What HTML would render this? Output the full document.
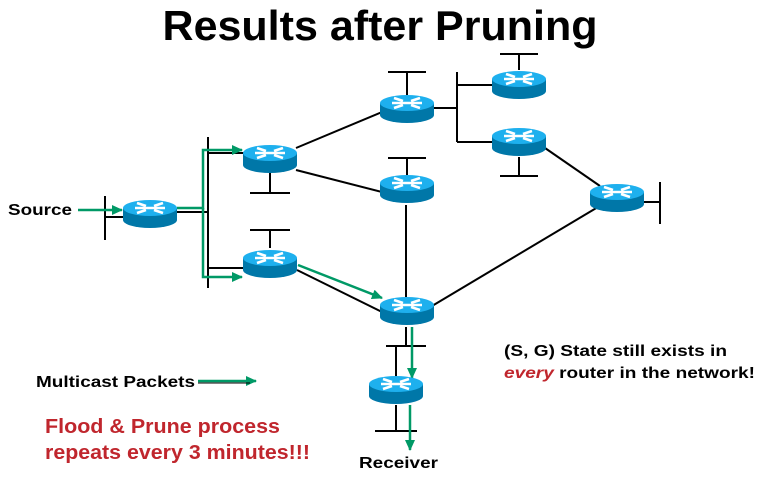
<!DOCTYPE html>
<html><head><style>body{margin:0;background:#fff}svg{display:block}</style></head><body>
<svg width="760" height="481" viewBox="0 0 760 481" xmlns="http://www.w3.org/2000/svg" font-family="Liberation Sans, Arial, sans-serif">
<defs>
<g id="r">
<path d="M-27,0 v12 a27,8 0 0 0 54,0 v-12 z" fill="#0077a8"/>
<ellipse cx="0" cy="0" rx="27" ry="8" fill="#1eb0ee"/>
<path d="M-13,-5 l9,3 M13,5 l-9,-3 M13,-5 l-9,3 M-13,5 l9,-3 M-15,0 h30" stroke="#fff" stroke-width="2.6" fill="none"/>
</g>
<marker id="a" markerWidth="11" markerHeight="10" refX="10" refY="5" orient="auto" markerUnits="userSpaceOnUse"><path d="M0,0 L11,5 L0,10 z" fill="#009966"/></marker>
</defs>
<text x="380" y="40" text-anchor="middle" font-size="42" font-weight="bold" textLength="435" lengthAdjust="spacingAndGlyphs">Results after Pruning</text>
<g stroke="#000" stroke-width="2" fill="none">
<path d="M105,196 V240 M105,217 H125"/>
<path d="M208,137 V288 M177,212 H208 M208,153 H245 M208,268 H245"/>
<path d="M270,172 V192 M250,193 H290"/>
<path d="M270,248 V230 M250,230 H290"/>
<path d="M296,148 L382,112 M296,170 L382,192"/>
<path d="M297,270 L382,312"/>
<path d="M407,95 V72 M388,72 H426"/>
<path d="M434,108 H457 M457,72 V142 M457,85 H492 M457,142 H492"/>
<path d="M519,70 V54 M500,54 H538"/>
<path d="M519,157 V176 M500,176 H538"/>
<path d="M407,175 V158 M388,158 H426 M406,205 V297"/>
<path d="M545,148 L600,186"/>
<path d="M644,202 H660 M660,182 V224"/>
<path d="M432,306 L598,207"/>
<path d="M406,327 V345 M386,346 H426 M396,346 V377"/>
<path d="M396,405 V430 M375,431 H417"/>
</g>
<g stroke="#009966" stroke-width="2.5" fill="none">
<path d="M78,210 H122" marker-end="url(#a)"/>
<path d="M177,208 H203 V150 H242" marker-end="url(#a)"/>
<path d="M203,208 V277 H242" marker-end="url(#a)"/>
<path d="M298,265 L382,298" marker-end="url(#a)"/>
<path d="M412,327 V378" marker-end="url(#a)"/>
<path d="M410,405 V450" marker-end="url(#a)"/>
<path d="M198,381 H256" marker-end="url(#a)"/>
</g>
<g stroke="#000" stroke-width="1" fill="none"><path d="M198,383 H250"/></g>
<use href="#r" x="150" y="208"/>
<use href="#r" x="270" y="153"/>
<use href="#r" x="270" y="258"/>
<use href="#r" x="407" y="103"/>
<use href="#r" x="407" y="183"/>
<use href="#r" x="407" y="305"/>
<use href="#r" x="519" y="79"/>
<use href="#r" x="519" y="136"/>
<use href="#r" x="617" y="192"/>
<use href="#r" x="396" y="384"/>
<g font-weight="bold" font-size="16" fill="#000" lengthAdjust="spacingAndGlyphs">
<text x="8" y="215" textLength="64" lengthAdjust="spacingAndGlyphs">Source</text>
<text x="36" y="387" textLength="159" lengthAdjust="spacingAndGlyphs">Multicast Packets</text>
<text x="359" y="468" textLength="79" lengthAdjust="spacingAndGlyphs">Receiver</text>
<text x="504" y="356" textLength="223" lengthAdjust="spacingAndGlyphs">(S, G) State still exists in</text>
<text x="504" y="378" textLength="251" lengthAdjust="spacingAndGlyphs"><tspan fill="#c0262d" font-style="italic">every</tspan> router in the network!</text>
</g>
<g font-weight="bold" font-size="20" fill="#c0262d">
<text x="45" y="433" textLength="235" lengthAdjust="spacingAndGlyphs">Flood &amp; Prune process</text>
<text x="45" y="459" textLength="265" lengthAdjust="spacingAndGlyphs">repeats every 3 minutes!!!</text>
</g>
</svg>
</body></html>
